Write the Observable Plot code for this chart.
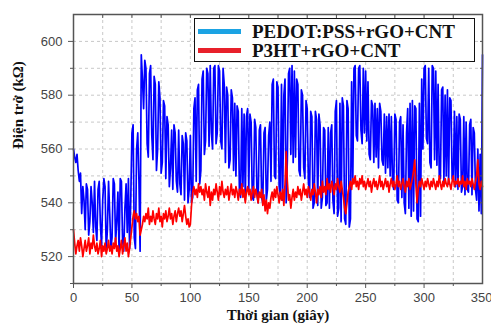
<!DOCTYPE html>
<html>
<head>
<meta charset="utf-8">
<script src="https://cdn.jsdelivr.net/npm/d3@7"></script>
<script src="https://cdn.jsdelivr.net/npm/@observablehq/plot@0.6"></script>
<style>
  html, body { margin: 0; padding: 0; background: #fff; }
  #wrap { position: relative; width: 491px; height: 329px; }
  #legend { position: absolute; left: 194px; top: 18px; width: 279px; height: 42px; border: 1.5px solid #111; background: #fff; }
  .sw { position: absolute; left: 3px; width: 43px; height: 5px; }
  .lt { position: absolute; left: 57px; font-family: "Liberation Serif", "Times New Roman", serif; font-weight: bold; font-size: 19px; color: #111; line-height: 19px; white-space: nowrap; }
</style>
</head>
<body>
<div id="wrap"></div>
<script>
const seriesNames = ["PEDOT:PSS+rGO+CNT", "P3HT+rGO+CNT"];
const seriesColors = ["#0000ff", "#ff0000"];
const legendColors = ["#1ba3e3", "#e8202a"];
const xLabel = "Thời gian (giây)";
const yLabel = "Điện trở (kΩ)";
const xTicks = [0, 50, 100, 150, 200, 250, 300, 350];
const xMinor = [25, 75, 125, 175, 225, 275, 325];
const yTicks = [520, 540, 560, 580, 600];
const yMinor = [510, 530, 550, 570, 590, 610];

// time in seconds, one sample per second (0..350)
const blue = [
560,557,555,558,552,548,551,536,546,541,
530,547,545,528,533,546,540,529,548,531,
526,545,548,532,524,541,549,546,522,530,
548,536,523,527,549,547,525,533,544,522,
549,548,526,522,538,547,529,549,523,541,
566,569,527,523,560,566,548,522,595,586,
575,593,590,562,557,588,591,565,556,587,
584,552,560,585,579,551,555,578,576,549,
572,569,546,553,567,545,569,566,548,544,
567,547,543,565,562,541,566,563,540,545,
565,540,542,575,579,548,582,584,547,552,
586,589,558,563,590,588,561,591,566,560,
590,591,562,566,591,589,563,560,590,584,
555,583,580,553,556,582,579,552,577,550,
576,574,544,542,575,546,573,541,572,575,
545,573,570,542,541,571,568,543,540,567,
569,542,540,566,568,541,545,565,570,548,
584,586,550,549,585,583,546,543,584,541,
580,586,540,556,588,590,558,591,555,589,
557,586,584,552,550,582,580,553,549,578,
575,548,542,574,572,538,540,574,571,539,
573,569,538,542,568,567,539,540,568,538,
566,569,541,536,574,578,535,538,577,533,
579,576,534,532,578,575,531,534,585,548,
590,591,565,563,590,591,567,562,590,566,
589,563,585,558,556,578,576,555,577,557,
575,553,577,574,556,554,573,551,572,553,
573,550,572,548,545,573,571,541,540,570,
572,542,569,540,536,566,575,538,577,535,
578,537,576,575,534,533,577,535,586,560,
590,591,564,562,590,555,553,591,590,556,
589,554,584,550,549,582,583,548,580,550,
582,547,579,578,549,548,574,546,572,545,
573,571,544,546,572,543,570,545,544,569,
571,543,568,566,545,541,560,537,558,536,
595
];
const red = [
530,525,521,524,526,522,527,524,520,523,
526,522,524,527,521,525,523,528,524,522,
525,521,523,526,520,524,522,525,521,523,
526,522,524,521,525,523,527,522,524,520,
523,526,521,524,527,522,525,520,523,527,
531,535,537,534,536,533,535,528,530,532,
535,533,536,534,538,532,535,533,537,534,
532,536,534,538,533,535,531,536,534,537,
533,535,538,534,536,532,535,537,533,536,
538,535,537,533,536,539,535,532,534,531,
532,539,544,546,543,545,542,547,544,546,
543,545,541,547,544,542,546,539,544,541,
545,543,547,544,541,546,543,548,544,542,
545,543,546,541,544,547,543,545,542,546,
544,541,545,543,547,542,545,540,544,546,
543,545,541,544,546,542,545,543,540,544,
542,545,539,543,537,541,536,540,538,542,
544,541,545,542,546,543,540,544,541,545,
539,547,559,548,541,543,538,542,545,541,
544,542,546,543,545,541,544,547,543,545,
542,546,544,541,545,543,547,544,540,545,
543,546,542,548,544,546,543,549,545,547,
544,548,546,543,547,545,549,546,544,548,
545,542,538,536,540,544,546,548,545,549,
547,550,546,548,545,549,547,550,546,548,
545,547,549,546,548,544,547,549,546,548,
545,547,550,546,548,545,547,549,546,548,
544,547,549,546,548,545,547,550,546,548,
545,547,549,546,544,548,546,549,545,547,
549,552,556,547,540,545,548,546,549,547,
545,548,546,549,547,545,548,546,549,547,
545,548,546,550,547,545,548,546,549,547,
546,549,547,545,548,550,546,548,547,549,
546,548,547,550,546,548,545,549,547,548,
546,549,547,545,548,550,556,547,545,548,
546
];

const data = [
  ...blue.map((v, i) => ({t: i, v, s: seriesNames[0]})),
  ...red.map((v, i) => ({t: i, v, s: seriesNames[1]}))
];

const tickFont = {fontFamily: "Liberation Sans, Arial, sans-serif", fontSize: 13, fill: "#444"};
const lastX = xTicks[xTicks.length - 1];

const chart = Plot.plot({
  width: 491,
  height: 329,
  marginLeft: 73,
  marginRight: 9,
  marginTop: 14,
  marginBottom: 46,
  style: {fontFamily: "Liberation Sans, Arial, sans-serif", fontSize: "13px", color: "#444", background: "#fff"},
  x: {domain: [0, 350]},
  y: {domain: [510, 610]},
  color: {domain: seriesNames, range: seriesColors},
  marks: [
    Plot.gridX([...xTicks, ...xMinor], {stroke: "#c8c8c8", strokeOpacity: 1, strokeDasharray: "3,3"}),
    Plot.gridY([...yTicks, ...yMinor], {stroke: "#c8c8c8", strokeOpacity: 1, strokeDasharray: "3,3"}),
    Plot.line(data, {x: "t", y: "v", z: "s", stroke: "s", strokeWidth: 1.7}),
    Plot.frame({stroke: "#555", strokeWidth: 1.5}),
    Plot.axisX(xTicks.filter(d => d !== lastX), {tickSize: 5, tickPadding: 4, label: null, stroke: "#555", ...tickFont}),
    Plot.axisX([lastX], {tickSize: 5, tickPadding: 4, label: null, stroke: "#555", textAnchor: "end", dx: 10, ...tickFont}),
    Plot.axisX(xMinor, {tickSize: 3, tickFormat: () => "", label: null, stroke: "#555"}),
    Plot.axisY(yTicks, {tickSize: 5, tickPadding: 6, label: null, stroke: "#555", ...tickFont}),
    Plot.axisY(yMinor.filter(d => d < 610), {tickSize: 3, tickFormat: () => "", label: null, stroke: "#555"}),
    Plot.axisX([...xTicks, ...xMinor], {anchor: "top", tickSize: -3, tickFormat: () => "", label: null, stroke: "#555"}),
    Plot.axisY([...yTicks, ...yMinor], {anchor: "right", tickSize: -3, tickFormat: () => "", label: null, stroke: "#555"}),
    Plot.text([xLabel], {frameAnchor: "bottom", dy: 36, fontFamily: "Liberation Serif, Times New Roman, serif", fontWeight: "bold", fontSize: 15, fill: "#111"}),
    Plot.text([yLabel], {frameAnchor: "left", dx: -55, rotate: -90, fontFamily: "Liberation Serif, Times New Roman, serif", fontWeight: "bold", fontSize: 15, fill: "#111"})
  ]
});

const wrap = document.getElementById("wrap");
wrap.appendChild(chart);

const legend = document.createElement("div");
legend.id = "legend";
seriesNames.forEach((name, i) => {
  const sw = document.createElement("div");
  sw.className = "sw";
  sw.style.top = (i === 0 ? 10 : 29) + "px";
  sw.style.background = legendColors[i];
  legend.appendChild(sw);
  const lt = document.createElement("div");
  lt.className = "lt";
  lt.style.top = (i === 0 ? 3 : 22) + "px";
  lt.textContent = name;
  legend.appendChild(lt);
});
wrap.appendChild(legend);
</script>
</body>
</html>
